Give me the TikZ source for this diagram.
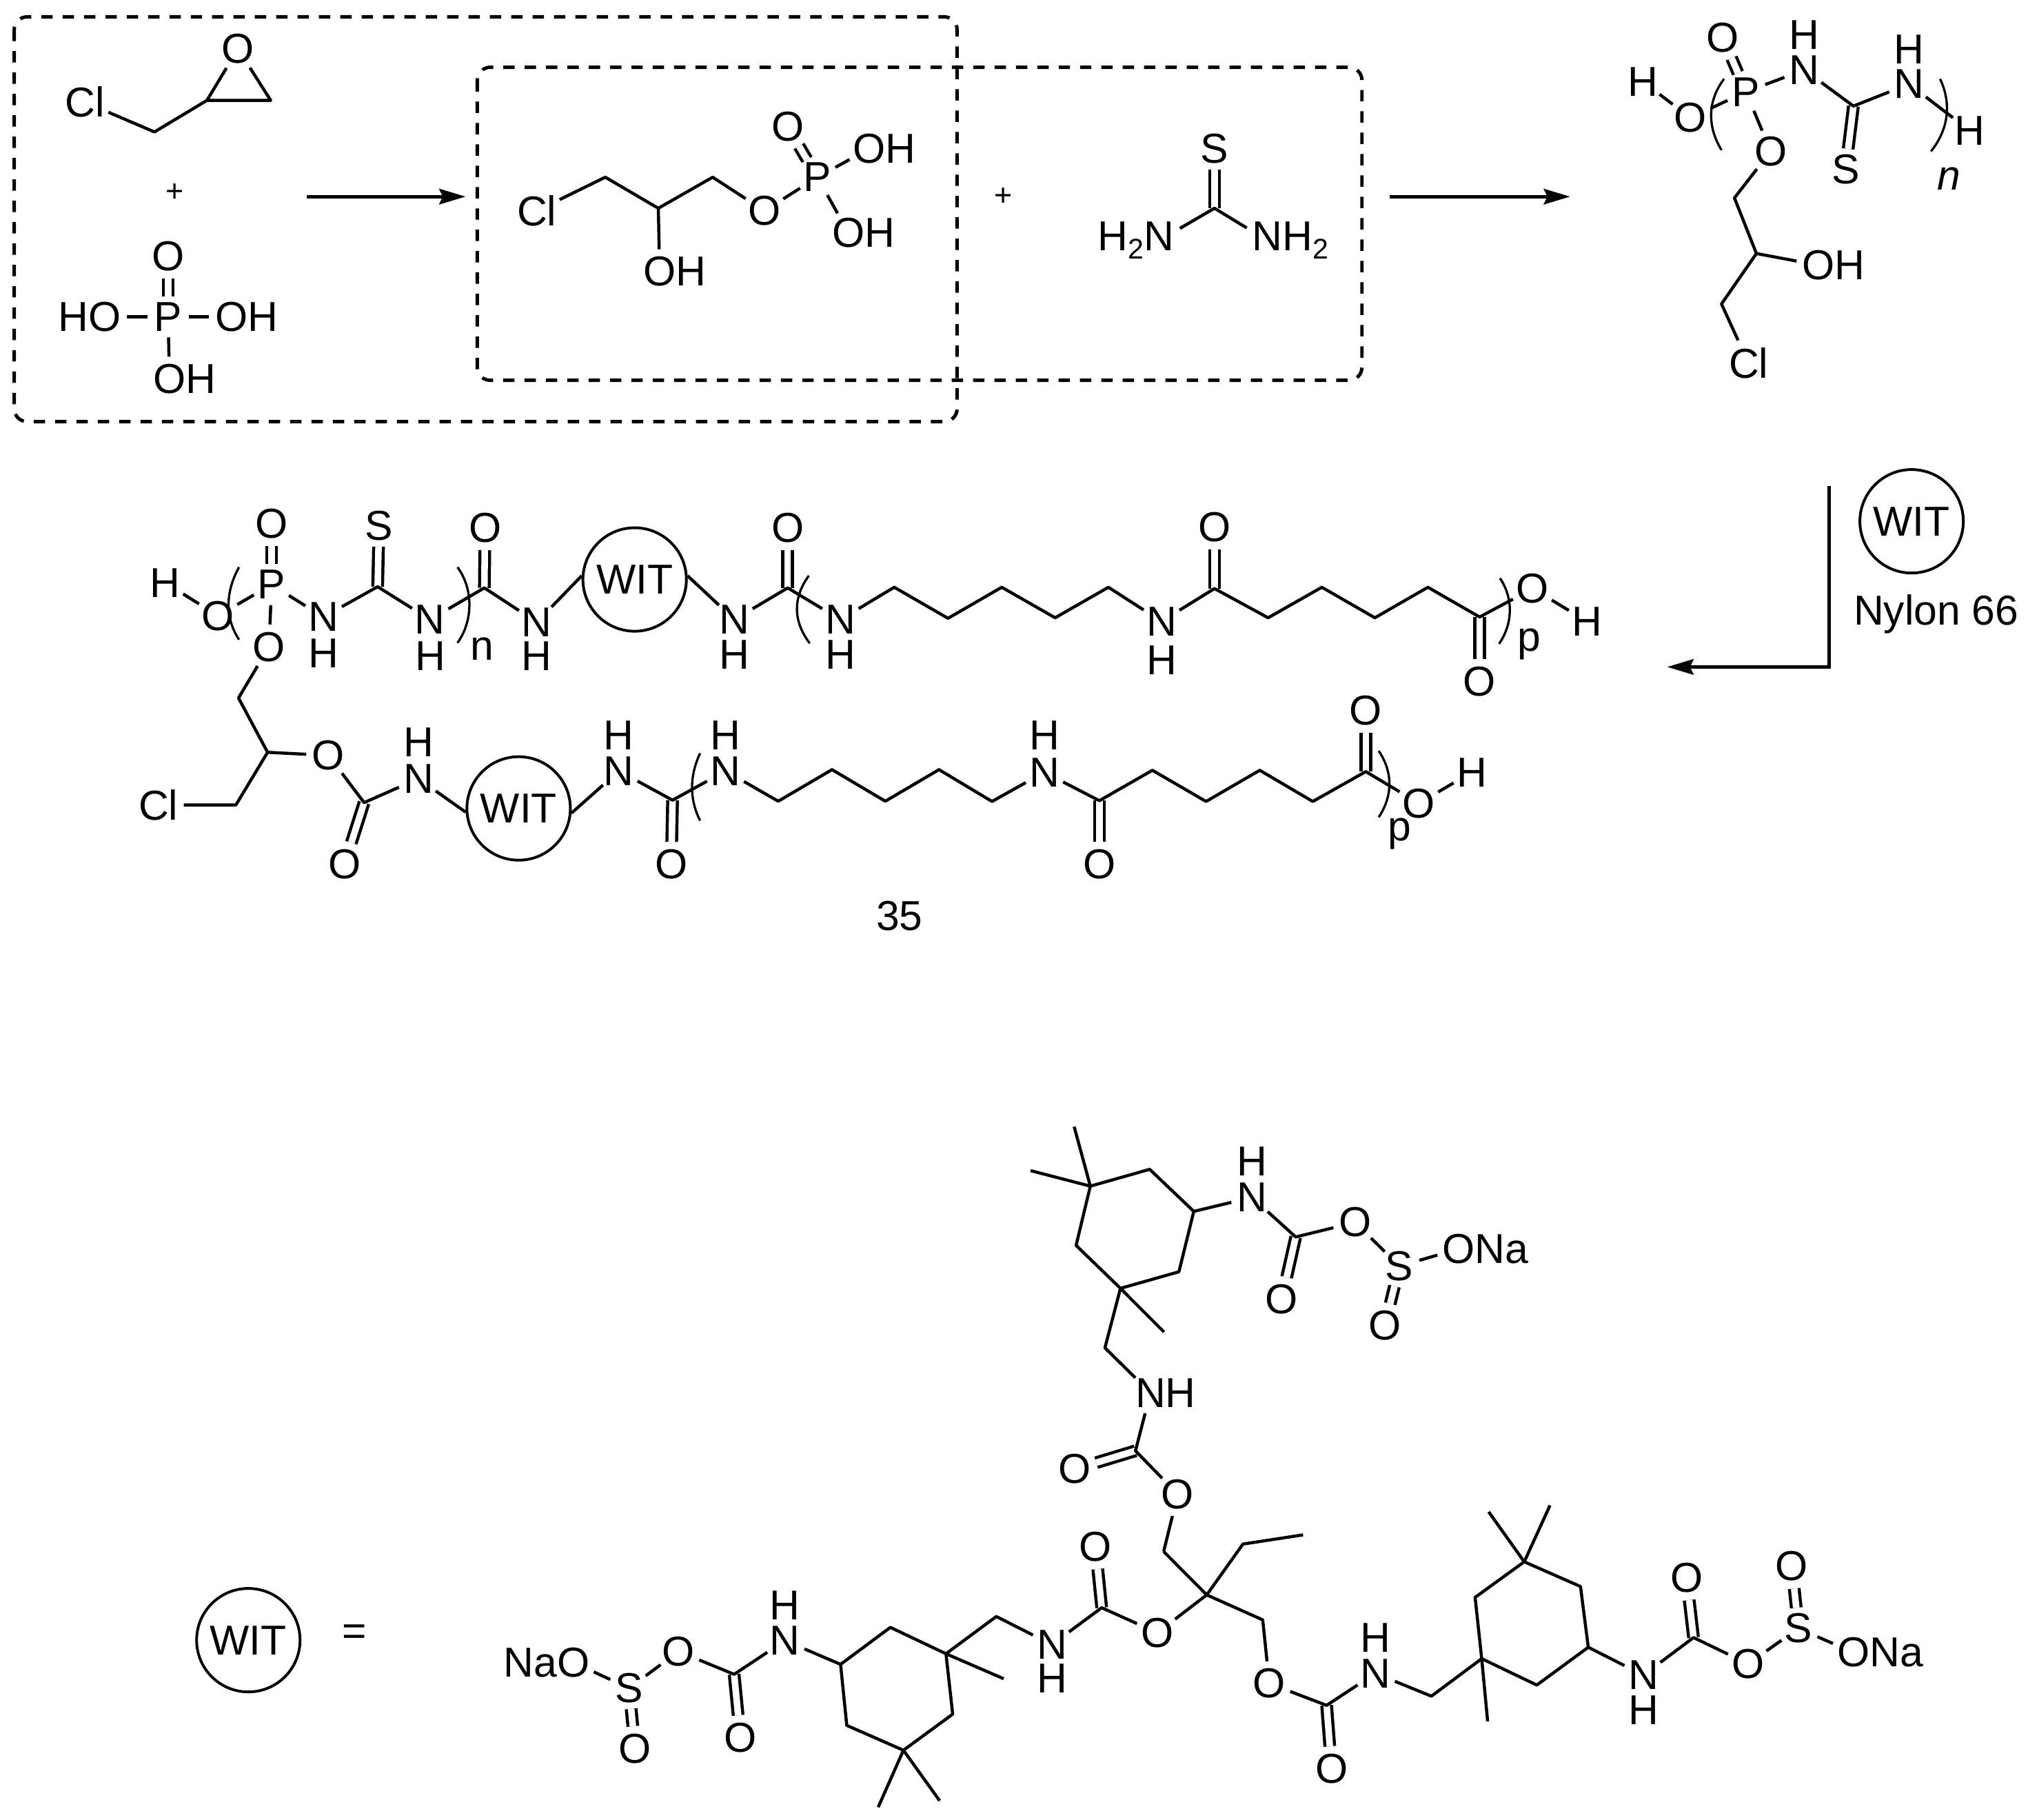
\documentclass[tikz,border=0pt]{standalone}
\usepackage{fontspec}
\setmainfont{Liberation Sans}
\usepackage{tikz}
\usetikzlibrary{arrows.meta}
\newcommand{\atomfont}{\fontsize{18.4}{20}\selectfont}
\newcommand{\subtwo}{\raisebox{-3.7pt}{\fontsize{12.5}{13}\selectfont 2}}
\tikzset{
atom/.style={circle, inner sep=0pt, font=\atomfont},
tag/.style={inner sep=0pt, font=\atomfont},
plus/.style={inner sep=0pt, font=\fontsize{13.6}{14}\selectfont},
wit/.style={draw, circle, inner sep=0pt, minimum size=1.6cm, line width=1.2pt, font=\atomfont},
bond/.style={line width=1.35pt, line join=round},
dbond/.style={line width=1.35pt, double, double distance=2.9pt},
paren/.style={line width=1pt},
dbox/.style={line width=1.5pt, dashed, dash pattern=on 5pt off 4.4pt, rounded corners=0.2cm},
reaction/.style={line width=1.5pt, -{Stealth[length=11.6pt, width=6.8pt, inset=1.6pt]}}
}
\begin{document}
\begin{tikzpicture}[x=0.02cm, y=-0.02cm]
\useasboundingbox (0,0) rectangle (1568,1407);
% boxes
\draw[dbox] (11,13) rectangle (740,326);
\draw[dbox] (369,52) rectangle (1053,294);
% epichlorohydrin
\node[atom] (aCl) at (65.7,79){Cl};
\coordinate (a1) at (119.4,102);
\coordinate (a2) at (160,77.6);
\coordinate (a3) at (209.3,77.6);
\node[atom] (aO) at (184,37.8){O};
\draw[bond] (aCl) -- (a1) -- (a2) -- (a3) -- (aO) -- (a2);
\node[plus] (plusA) at (135,149){+};
% phosphoric acid
\node[atom] (bP) at (130,245){P};
\node[atom] (bO) at (130,198){O};
\node[atom] (bO1) at (81,245){\llap{H}O};
\node[atom] (bO2) at (179,245){O\rlap{H}};
\node[atom] (bO3) at (131,293){O\rlap{H}};
\draw[dbond] (bP) -- (bO);
\draw[bond] (bP) -- (bO1);
\draw[bond] (bP) -- (bO2);
\draw[bond] (bP) -- (bO3);
% first arrow
\coordinate (arA) at (237,152);
\coordinate (arB) at (360,152);
\draw[reaction] (arA) -- (arB);
% chlorohydrin phosphate
\node[atom] (cCl) at (415,163){Cl};
\coordinate (c1) at (468,137);
\coordinate (c2) at (509,161);
\coordinate (c3) at (551,137);
\node[atom] (cOH) at (510,210){O\rlap{H}};
\node[atom] (cO) at (591,163){O};
\node[atom] (cP) at (632,137){P};
\node[atom] (cO1) at (609,98){O};
\node[atom] (cO2) at (672,115){O\rlap{H}};
\node[atom] (cO3) at (656,180){O\rlap{H}};
\draw[dbond] (cP) -- (cO1);
\draw[bond] (cCl) -- (c1) -- (c2) -- (c3) -- (cO) -- (cP);
\draw[bond] (c2) -- (cOH);
\draw[bond] (cP) -- (cO2);
\draw[bond] (cP) -- (cO3);
\node[plus] (plusB) at (776,152){+};
% thiourea
\coordinate (dC) at (939,161);
\node[atom] (dS) at (939,115){S};
\node[atom] (dN1) at (896,186){\llap{H\subtwo}N};
\node[atom] (dN2) at (980,186){N\rlap{H\subtwo}};
\draw[dbond] (dC) -- (dS);
\draw[bond] (dN1) -- (dC) -- (dN2);
% second arrow
\coordinate (arC) at (1074.5,152);
\coordinate (arD) at (1214,152);
\draw[reaction] (arC) -- (arD);
% polymer
\node[atom] (eH) at (1270,63){H};
\node[atom] (eO) at (1307,91){O};
\node[atom] (eP) at (1350,71){P};
\node[atom] (eO1) at (1332,29){O};
\node[atom] (eN1) at (1395,54){N};
\node[atom] (eH1) at (1395,27){H};
\coordinate (eC) at (1433,82);
\node[atom] (eS) at (1427,131){S};
\node[atom] (eN2) at (1476,65){N};
\node[atom] (eH2) at (1476,38){H};
\node[atom] (eH3) at (1523,101){H};
\node[tag] (eN) at (1507,138){\itshape n};
\node[atom] (eO2) at (1369,117){O};
\coordinate (e1) at (1341,153);
\coordinate (e2) at (1358,196);
\node[atom] (eO3) at (1406,205){O\rlap{H}};
\coordinate (e3) at (1331,235);
\node[atom] (eCl) at (1352,281){Cl};
\draw[dbond] (eP) -- (eO1);
\draw[dbond] (eC) -- (eS);
\draw[bond] (eH) -- (eO) -- (eP) -- (eN1) -- (eC) -- (eN2) -- (eH3);
\draw[bond] (eP) -- (eO2) -- (e1) -- (e2) -- (e3) -- (eCl);
\draw[bond] (e2) -- (eO3);
\draw[paren] (1333,61) .. controls (1320,78) and (1320,98) .. (1331,116);
\draw[paren] (1500,61) .. controls (1508,78) and (1508,98) .. (1493,117);
% third arrow
\coordinate (arE) at (1414,376);
\coordinate (arF) at (1414,515.6);
\coordinate (arG) at (1289,515.6);
\draw[reaction] (arE) -- (arF) -- (arG);
\node[wit] (w0) at (1478,403){WIT};
\node[tag] (nylon) at (1497,475){Nylon 66};
% product 35, upper arm
\node[atom] (fH) at (127.7,450.5){H};
\node[atom] (fO) at (168.5,476){O};
\node[atom] (fP) at (210,452){P};
\node[atom] (fO2) at (210,405){O};
\node[atom] (fO3) at (208,500){O};
\node[atom] (fN1) at (250,477){N};
\node[atom] (fH1) at (250,505){H};
\coordinate (fC1) at (292,453.6);
\node[atom] (fS) at (293,406.6){S};
\node[atom] (fN2) at (332.5,479){N};
\node[atom] (fH2) at (333,507){H};
\coordinate (fC2) at (374.5,454.5);
\node[atom] (fO4) at (375,408){O};
\node[tag] (fn) at (372.5,501.4){n};
\node[atom] (fN3) at (415,481){N};
\node[atom] (fH3) at (415,507){H};
\node[wit] (w1) at (490.7,448){WIT};
\node[atom] (fN4) at (567.8,479){N};
\node[atom] (fH4) at (567.8,506){H};
\coordinate (fC3) at (609,454.5);
\node[atom] (fO5) at (609,408){O};
\node[atom] (fN5) at (649.8,479){N};
\node[atom] (fH5) at (650,506){H};
\coordinate (f1) at (691.4,454);
\coordinate (f2) at (733,478);
\coordinate (f3) at (774.5,454);
\coordinate (f4) at (815.8,477.6);
\coordinate (f5) at (857,454);
\node[atom] (fN6) at (898,480.4){N};
\node[atom] (fH6) at (898,510.5){H};
\coordinate (fC4) at (939,455);
\node[atom] (fO6) at (939,407.6){O};
\coordinate (f6) at (980.5,477.6);
\coordinate (f7) at (1022,454);
\coordinate (f8) at (1063,477.6);
\coordinate (f9) at (1104,454);
\coordinate (fC5) at (1144,477);
\node[atom] (fO7) at (1144,527){O};
\node[atom] (fO8) at (1185,455){O};
\node[atom] (fH7) at (1227,480.4){H};
\node[tag] (fp) at (1182.5,498){p};
\draw[dbond] (fP) -- (fO2);
\draw[dbond] (fC1) -- (fS);
\draw[dbond] (fC2) -- (fO4);
\draw[dbond] (fC3) -- (fO5);
\draw[dbond] (fC4) -- (fO6);
\draw[dbond] (fC5) -- (fO7);
\draw[bond] (fH) -- (fO) -- (fP) -- (fN1) -- (fC1) -- (fN2) -- (fC2) -- (fN3) -- (w1.176);
\draw[bond] (fP) -- (fO3);
\draw[bond] (w1.4) -- (fN4) -- (fC3) -- (fN5) -- (f1) -- (f2) -- (f3) -- (f4) -- (f5) -- (fN6) -- (fC4) -- (f6) -- (f7) -- (f8) -- (f9) -- (fC5) -- (fO8) -- (fH7);
\draw[paren] (184.8,438.5) .. controls (174,458) and (174,478) .. (184.8,494.5);
\draw[paren] (353.7,438.5) .. controls (366,455) and (366,480) .. (353.7,497);
\draw[paren] (625.4,445) .. controls (613,462) and (613,480) .. (626,497.3);
\draw[paren] (1159.7,447) .. controls (1170,462) and (1170,482) .. (1159,497.7);
% product 35, lower arm
\node[atom] (gCl) at (122.4,622.3){Cl};
\coordinate (g1) at (182.4,622.3);
\coordinate (g2) at (206.9,581.6);
\coordinate (g3) at (184.4,539.6);
\node[atom] (gO) at (254,584){O};
\coordinate (gC1) at (281.5,620.5);
\node[atom] (gO2) at (266.4,668){O};
\node[atom] (gN1) at (323.5,602){N};
\node[atom] (gH1) at (323.5,574){H};
\node[wit] (w2) at (401,625){WIT};
\node[atom] (gN2) at (478.5,596){N};
\node[atom] (gH2) at (478.5,568.5){H};
\coordinate (gC2) at (520,618.6);
\node[atom] (gO3) at (519,668){O};
\node[atom] (gN3) at (561,596){N};
\node[atom] (gH3) at (561,568.5){H};
\coordinate (g4) at (601.7,619.4);
\coordinate (g5) at (643.3,595);
\coordinate (g6) at (684.5,619.4);
\coordinate (g7) at (726,595);
\coordinate (g8) at (767,619.6);
\node[atom] (gN4) at (807.4,597){N};
\node[atom] (gH4) at (807.4,568.3){H};
\coordinate (gC3) at (850,619);
\node[atom] (gO4) at (850,668){O};
\coordinate (g9) at (891,595.5);
\coordinate (g10) at (932.5,619.6);
\coordinate (g11) at (974,595.5);
\coordinate (g12) at (1015,619.6);
\coordinate (gC4) at (1056,596.5);
\node[atom] (gO5) at (1056,549.3){O};
\node[atom] (gO6) at (1097,621){O};
\node[atom] (gH5) at (1138,597){H};
\node[tag] (gp) at (1082,644.6){p};
\node[tag] (label) at (695.5,708){35};
\draw[dbond] (gC1) -- (gO2);
\draw[dbond] (gC2) -- (gO3);
\draw[dbond] (gC3) -- (gO4);
\draw[dbond] (gC4) -- (gO5);
\draw[bond] (fO3) -- (g3) -- (g2) -- (g1) -- (gCl);
\draw[bond] (g2) -- (gO) -- (gC1) -- (gN1) -- (w2.184);
\draw[bond] (w2.355) -- (gN2) -- (gC2) -- (gN3) -- (g4) -- (g5) -- (g6) -- (g7) -- (g8) -- (gN4) -- (gC3) -- (g9) -- (g10) -- (g11) -- (g12) -- (gC4) -- (gO6) -- (gH5);
\draw[paren] (541.3,582.3) .. controls (533,600) and (533,618) .. (541.3,634.4);
\draw[paren] (1066,580.5) .. controls (1077,597) and (1077,615) .. (1066,631.8);
% definition of WIT
\node[wit] (w3) at (192,1268){WIT};
\node[tag] (eq) at (274,1264){=};
% upper ring
\coordinate (h1) at (843,917);
\coordinate (hMa) at (830.5,871);
\coordinate (hMb) at (796.8,905);
\coordinate (h2) at (888.9,904);
\coordinate (h3) at (923,936.5);
\coordinate (h4) at (911.5,983.2);
\coordinate (h5) at (866.3,996);
\coordinate (h6) at (832,962.8);
\coordinate (hMc) at (900,1029.8);
\node[atom] (hN1) at (968,925.7){N};
\node[atom] (hH1) at (968,897.8){H};
\coordinate (hC1) at (1001.8,956.3);
\node[atom] (hO1) at (991,1004.3){O};
\node[atom] (hO2) at (1047.7,945){O};
\node[atom] (hS) at (1082,978.8){S};
\node[atom] (hO3) at (1070.7,1024.7){O};
\node[atom] (hO4) at (1127.9,965.5){O\rlap{Na}};
\coordinate (h7) at (854.3,1042);
\node[atom] (hN2) at (889.5,1076.7){N\rlap{H}};
\coordinate (hC2) at (877.9,1121.6);
\node[atom] (hO5) at (831,1135.8){O};
\node[atom] (hO6) at (910.6,1155.2){O};
\coordinate (h8) at (899.7,1199.5);
\draw[dbond] (hC1) -- (hO1);
\draw[dbond] (hS) -- (hO3);
\draw[dbond] (hC2) -- (hO5);
\draw[bond] (hMa) -- (h1) -- (h2) -- (h3) -- (h4) -- (h5) -- (h6) -- (h1) -- (hMb);
\draw[bond] (h3) -- (hN1) -- (hC1) -- (hO2) -- (hS) -- (hO4);
\draw[bond] (hMc) -- (h5) -- (h7) -- (hN2) -- (hC2) -- (hO6) -- (h8);
% centre
\coordinate (kC) at (933,1233);
\coordinate (kE1) at (961,1193.7);
\coordinate (kE2) at (1007.5,1186.6);
\coordinate (k1) at (976.3,1252.3);
\draw[bond] (h8) -- (kC) -- (kE1) -- (kE2);
% left arm
\node[atom] (lO1) at (894.8,1262.3){O};
\coordinate (lC1) at (851.8,1242.9);
\node[atom] (lO2) at (847,1195.8){O};
\node[atom] (lN1) at (813.3,1271.4){N};
\node[atom] (lH1) at (813.3,1297.8){H};
\coordinate (l1) at (770.3,1249.7);
\coordinate (l2) at (731.4,1278.5);
\coordinate (lMa) at (776,1297.8);
\coordinate (l3) at (688.4,1258.1);
\coordinate (l4) at (649.9,1286.7);
\coordinate (l5) at (654.7,1333.9);
\coordinate (l6) at (698.5,1353.1);
\coordinate (l7) at (736.6,1325.2);
\coordinate (lMb) at (679,1397.1);
\coordinate (lMc) at (726.5,1392.1);
\node[atom] (lN2) at (606.9,1268.3){N};
\node[atom] (lH2) at (606.9,1241.2){H};
\coordinate (lC2) at (567.6,1294.4);
\node[atom] (lO3) at (572.4,1343.3){O};
\node[atom] (lO4) at (524.6,1276.7){O};
\node[atom] (lS) at (486.4,1305.1){S};
\node[atom] (lO5) at (491,1351.8){O};
\node[atom] (lO6) at (443.4,1285.3){\llap{Na}O};
\draw[dbond] (lC1) -- (lO2);
\draw[dbond] (lC2) -- (lO3);
\draw[dbond] (lS) -- (lO5);
\draw[bond] (kC) -- (lO1) -- (lC1) -- (lN1) -- (l1) -- (l2) -- (l3) -- (l4) -- (l5) -- (l6) -- (l7) -- (l2) -- (lMa);
\draw[bond] (lMb) -- (l6) -- (lMc);
\draw[bond] (l4) -- (lN2) -- (lC2) -- (lO4) -- (lS) -- (lO6);
% right arm
\node[atom] (mO1) at (981.4,1301.5){O};
\coordinate (mC1) at (1025.7,1318.4);
\node[atom] (mO2) at (1029.5,1367.3){O};
\node[atom] (mN1) at (1063.3,1293.6){N};
\node[atom] (mH1) at (1063.3,1265.9){H};
\coordinate (m1) at (1106.7,1311.3);
\coordinate (m2) at (1145.6,1282.3);
\coordinate (mMa) at (1150.2,1330.8);
\coordinate (m3) at (1140.5,1234.9);
\coordinate (m4) at (1178.5,1207.4);
\coordinate (mMb) at (1151,1168.8);
\coordinate (mMc) at (1198.4,1163.8);
\coordinate (m5) at (1222,1226.5);
\coordinate (m6) at (1228,1273.5);
\coordinate (m7) at (1188.2,1302.7);
\node[atom] (mN2) at (1270.6,1295){N};
\node[atom] (mH2) at (1270.6,1321.9){H};
\coordinate (mC2) at (1309.4,1266);
\node[atom] (mO3) at (1304,1219.8){O};
\node[atom] (mO4) at (1351.6,1286.3){O};
\node[atom] (mS) at (1390.5,1258.9){S};
\node[atom] (mO5) at (1385.4,1210.9){O};
\node[atom] (mO6) at (1433,1277.5){O\rlap{Na}};
\draw[dbond] (mC1) -- (mO2);
\draw[dbond] (mC2) -- (mO3);
\draw[dbond] (mS) -- (mO5);
\draw[bond] (kC) -- (k1) -- (mO1) -- (mC1) -- (mN1) -- (m1) -- (m2) -- (m3) -- (m4) -- (m5) -- (m6) -- (m7) -- (m2) -- (mMa);
\draw[bond] (mMb) -- (m4) -- (mMc);
\draw[bond] (m6) -- (mN2) -- (mC2) -- (mO4) -- (mS) -- (mO6);
\end{tikzpicture}
\end{document}
